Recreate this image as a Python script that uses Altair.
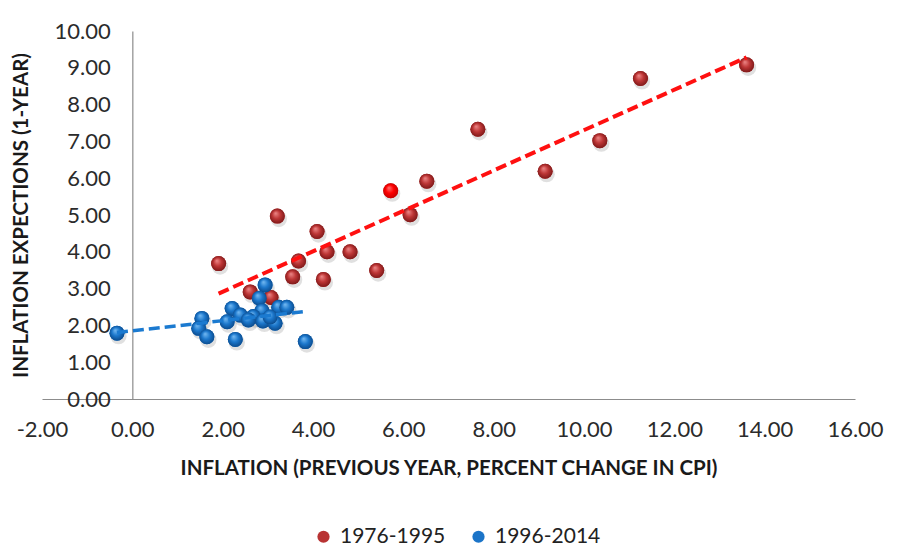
import altair as alt
import pandas as pd

# 1976-1995 series (previous-year CPI inflation, 1-year inflation expectations)
red_x = [1.91, 3.21, 4.09, 3.68, 3.55, 4.31, 4.23, 4.82, 5.41, 5.72,
         6.15, 6.52, 7.65, 9.14, 10.35, 11.25, 13.60, 2.61, 3.07]
red_y = [3.68, 4.97, 4.55, 3.75, 3.32, 4.00, 3.25, 4.00, 3.49, 5.66,
         5.01, 5.92, 7.33, 6.19, 7.02, 8.71, 9.08, 2.91, 2.76]
red_highlight = [0, 0, 0, 0, 0, 0, 0, 0, 0, 1,
                 0, 0, 0, 0, 0, 0, 0, 0, 0]

# 1996-2014 series
blue_x = [-0.34, 1.54, 1.47, 1.65, 2.21, 2.10, 2.39, 2.28, 2.94, 2.81,
          2.87, 2.68, 2.89, 3.24, 3.42, 3.16, 3.83, 2.57, 3.05]
blue_y = [1.79, 2.19, 1.92, 1.69, 2.46, 2.10, 2.28, 1.62, 3.10, 2.74,
          2.40, 2.24, 2.12, 2.49, 2.49, 2.06, 1.56, 2.15, 2.23]

periods = ["1976-1995", "1996-2014"]
x_ticks = [-2, 0, 2, 4, 6, 8, 10, 12, 14, 16]
y_ticks = [0, 1, 2, 3, 4, 5, 6, 7, 8, 9, 10]

df = pd.DataFrame({
    "x": red_x + blue_x,
    "y": red_y + blue_y,
    "period": [periods[0]] * len(red_x) + [periods[1]] * len(blue_x),
    "hl": red_highlight + [0] * len(blue_x),
})

FONT = "Lato"
W, H = 813, 368
y_axis_offset = -(0 - (-2)) * W / 18

xs = alt.X("x:Q", scale=alt.Scale(domain=[-2, 16], nice=False, zero=False),
           axis=alt.Axis(values=x_ticks, ticks=False, grid=False, labelFlush=False,
                         labelExpr="replace(format(datum.value, '.2f'), '\u2212', '-')",
                         domainColor="#8c8c8c", labelPadding=20,
                         title="INFLATION (PREVIOUS YEAR, PERCENT CHANGE IN CPI)",
                         titlePadding=18))
ys = alt.Y("y:Q", scale=alt.Scale(domain=[0, 10], nice=False),
           axis=alt.Axis(values=y_ticks, format=".2f", ticks=False, grid=False,
                         labelFlush=False,
                         domainColor="#8c8c8c", offset=y_axis_offset,
                         labelPadding=22,
                         title="INFLATION EXPECTIONS (1-YEAR)", titlePadding=23))

base = alt.Chart(df)


def sphere(c_hi, c_mid, c_lo):
    return alt.RadialGradient(
        gradient="radial",
        stops=[alt.GradientStop(offset=0, color=c_hi),
               alt.GradientStop(offset=0.5, color=c_mid),
               alt.GradientStop(offset=1, color=c_lo)],
        x1=0.38, y1=0.3, r1=0.0, x2=0.5, y2=0.5, r2=0.55)


SZ = 225

shadow = base.mark_circle(size=SZ + 40, color="#000000", opacity=0.12,
                          xOffset=1.5, yOffset=3).encode(x=xs, y=ys)

solid = base.mark_circle(size=SZ, opacity=1).encode(
    x=xs, y=ys,
    color=alt.Color("period:N",
                    scale=alt.Scale(domain=periods, range=["#b83333", "#1b74c8"]),
                    legend=alt.Legend(title=None, orient="none", direction="horizontal",
                                      legendX=271, legendY=495, symbolType="circle",
                                      symbolSize=150, symbolStrokeWidth=0,
                                      labelFontSize=21, labelFont=FONT,
                                      labelColor="#222222", columnPadding=22,
                                      labelOffset=6)))

red_pts = base.mark_circle(size=SZ, opacity=1,
                           fill=sphere("#ee8a8a", "#bd3535", "#761616")).encode(
    x=xs, y=ys).transform_filter(
    (alt.datum.period == periods[0]) & (alt.datum.hl == 0))

hl_pt = base.mark_circle(size=SZ, opacity=1,
                         fill=sphere("#ff7474", "#ff0000", "#c00000")).encode(
    x=xs, y=ys).transform_filter(alt.datum.hl == 1)

blue_pts = base.mark_circle(size=SZ, opacity=1,
                            fill=sphere("#78bcf3", "#1b77cc", "#0a4685")).encode(
    x=xs, y=ys).transform_filter(alt.datum.period == periods[1])

red_line = base.mark_line(color="#ff1010", strokeWidth=4, strokeDash=[11, 5]).encode(
    x=xs, y=ys).transform_filter(alt.datum.period == periods[0]).transform_regression("x", "y")

blue_line = base.mark_line(color="#1b7ad0", strokeWidth=3.5, strokeDash=[11, 5]).encode(
    x=xs, y=ys).transform_filter(alt.datum.period == periods[1]).transform_regression("x", "y")

chart = alt.layer(shadow, solid, red_pts, hl_pt, blue_pts, red_line, blue_line).properties(
    width=W, height=H,
    autosize=alt.AutoSizeParams(type="none"),
    padding={"left": 42, "top": 31, "right": 45, "bottom": 161},
    background="white",
).configure_view(stroke=None).configure_axis(
    labelFont=FONT, labelFontSize=22, labelColor="#2b2b2b",
    titleFont=FONT, titleFontSize=20.5, titleFontWeight="bold", titleColor="#1a1a1a",
    domainWidth=1.2,
)

chart.save("out.html", embed_options={"renderer": "svg", "actions": False})
